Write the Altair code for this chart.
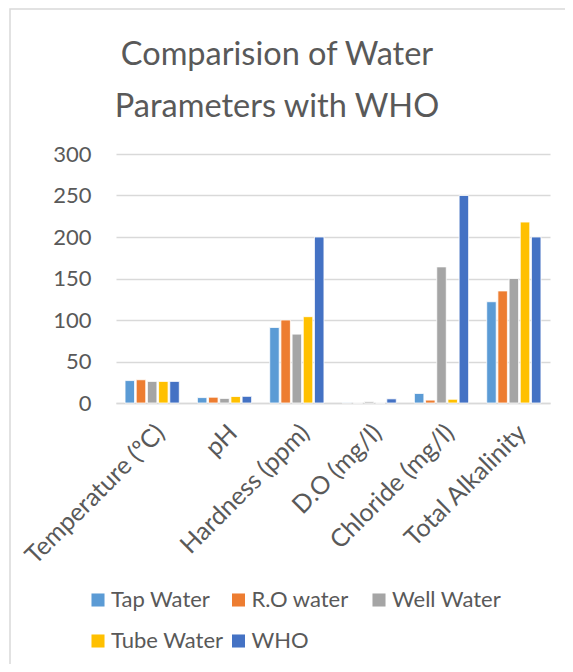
import altair as alt
import pandas as pd

categories = ["Temperature (ºC)", "pH", "Hardness (ppm)", "D.O (mg/l)", "Chloride (mg/l)", "Total Alkalinity"]
series = ["Tap Water", "R.O water", "Well Water", "Tube Water", "WHO"]
colors = ["#5B9BD5", "#ED7D31", "#A5A5A5", "#FFC000", "#4472C4"]

tap_water = [27, 6.5, 91, 0.4, 11.5, 122]
ro_water = [28, 7, 100, 0, 3.5, 135]
well_water = [26, 5.5, 83, 1.5, 164, 150]
tube_water = [26, 7.8, 104, 0, 4.5, 218]
who = [26, 8, 200, 5, 250, 200]

values = [tap_water, ro_water, well_water, tube_water, who]
rows = []
for s, vals in zip(series, values):
    for c, v in zip(categories, vals):
        rows.append({"Parameter": c, "Source": s, "Value": v})
df = pd.DataFrame(rows)

TEXT = "#595959"
FONT = "Lato"

bars = alt.Chart(df).mark_bar(stroke="white", strokeWidth=0.8).encode(
    x=alt.X("Parameter:N", sort=categories,
            scale=alt.Scale(paddingInner=0.25, paddingOuter=0.125),
            axis=alt.Axis(title=None, labelAngle=-45, labelFontSize=25, labelColor=TEXT,
                          labelFont=FONT, ticks=False, domainColor="#d9d9d9", domainWidth=1.5,
                          labelPadding=17, labelLimit=300)),
    xOffset=alt.XOffset("Source:N", sort=series, scale=alt.Scale(paddingInner=0.15)),
    y=alt.Y("Value:Q", scale=alt.Scale(domain=[0, 300]),
            axis=alt.Axis(title=None, values=[0, 50, 100, 150, 200, 250, 300], labelFontSize=22,
                          labelColor=TEXT, labelFont=FONT, ticks=False, domain=False,
                          gridColor="#d9d9d9", gridWidth=1.5, labelPadding=25)),
    color=alt.Color("Source:N", sort=series,
                    scale=alt.Scale(domain=series, range=colors),
                    legend=alt.Legend(title=None, orient="none", legendX=-29, legendY=435,
                                      direction="horizontal",
                                      columns=3, gridAlign="all", symbolType="square",
                                      symbolSize=170, symbolStrokeWidth=0, labelFontSize=22,
                                      labelColor=TEXT, labelFont=FONT, labelOffset=2,
                                      columnPadding=3.5, rowPadding=19, padding=0)),
)

border = alt.Chart(pd.DataFrame({"a": [0]})).mark_rect(
    fill=None, stroke="#d9d9d9", strokeWidth=1.5
).encode(x=alt.value(-106), x2=alt.value(700), y=alt.value(-145), y2=alt.value(700))

chart = alt.layer(border, bars).properties(
    width=434, height=249,
    title=alt.TitleParams(
        text=["Comparision of Water", "Parameters with WHO"],
        fontSize=32.5, font=FONT, color=TEXT, fontWeight="normal",
        anchor="middle", frame="group", dx=-56, lineHeight=52,
        baseline="alphabetic", offset=0, dy=141,
    ),
    autosize=alt.AutoSizeParams(type="none"),
    padding={"left": 108, "top": 146, "right": 15, "bottom": 261},
).configure_view(stroke=None)

chart.save("out.html", embed_options={"renderer": "svg", "actions": False})
